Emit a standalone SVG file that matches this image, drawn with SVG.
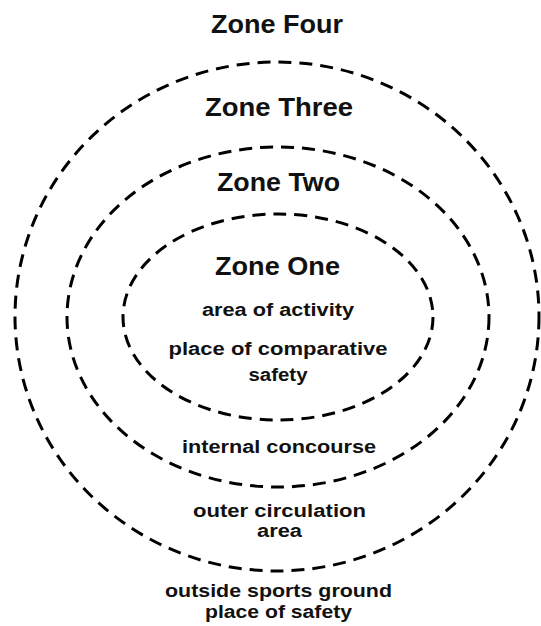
<svg xmlns="http://www.w3.org/2000/svg" width="541" height="626" viewBox="0 0 541 626">
<style>
.zone{fill:none;stroke:#000;stroke-width:3;stroke-dasharray:13 8}
.t{font-family:"Liberation Sans",Arial,sans-serif;font-weight:bold;fill:#111;text-anchor:middle}
.h{font-size:26px}
.s{font-size:18px}
</style>
<rect width="541" height="626" fill="#fff"/>
<g id="zone4">
<ellipse class="zone" cx="277" cy="316.5" rx="262" ry="254.5"/>
<text class="t h" x="277" y="33" textLength="132" lengthAdjust="spacingAndGlyphs">Zone Four</text>
<text class="t s" x="278.5" y="597" textLength="227" lengthAdjust="spacingAndGlyphs">outside sports ground</text>
<text class="t s" x="278.5" y="618" textLength="147" lengthAdjust="spacingAndGlyphs">place of safety</text>
</g>
<g id="zone3">
<ellipse class="zone" cx="278" cy="317" rx="211" ry="170"/>
<text class="t h" x="279" y="116" textLength="148" lengthAdjust="spacingAndGlyphs">Zone Three</text>
<text class="t s" x="279.5" y="517" textLength="173" lengthAdjust="spacingAndGlyphs">outer circulation</text>
<text class="t s" x="279.5" y="537" textLength="45" lengthAdjust="spacingAndGlyphs">area</text>
</g>
<g id="zone2">
<ellipse class="zone" cx="278" cy="317" rx="155" ry="103"/>
<text class="t h" x="278.5" y="191" textLength="123" lengthAdjust="spacingAndGlyphs">Zone Two</text>
<text class="t s" x="279" y="453" textLength="194" lengthAdjust="spacingAndGlyphs">internal concourse</text>
</g>
<g id="zone1">
<text class="t h" x="277.5" y="275" textLength="125" lengthAdjust="spacingAndGlyphs">Zone One</text>
<text class="t s" x="278" y="316" textLength="152" lengthAdjust="spacingAndGlyphs">area of activity</text>
<text class="t s" x="278" y="355" textLength="219" lengthAdjust="spacingAndGlyphs">place of comparative</text>
<text class="t s" x="278" y="381" textLength="59" lengthAdjust="spacingAndGlyphs">safety</text>
</g>
<g id="connectors"></g>
</svg>
